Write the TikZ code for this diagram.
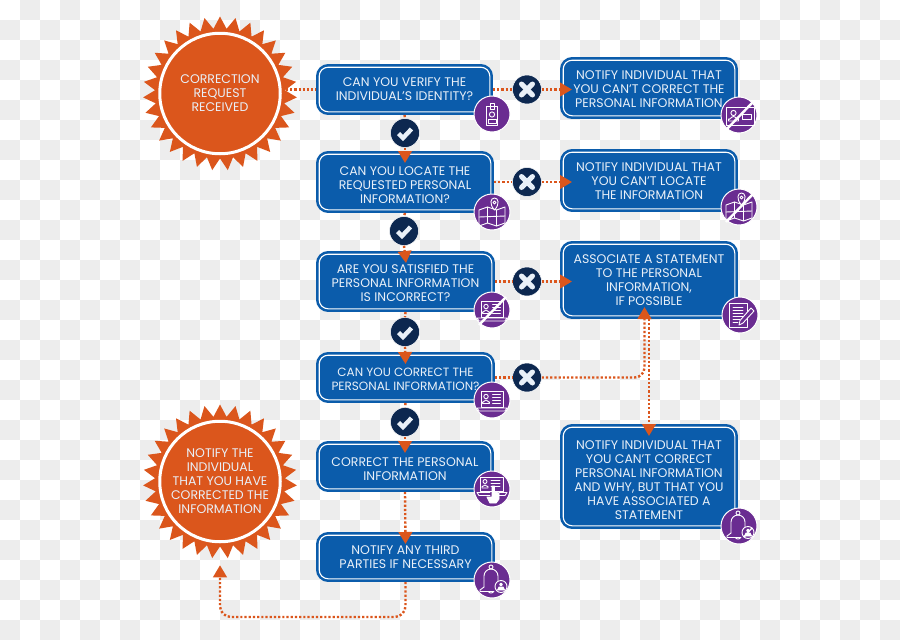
\documentclass[tikz,border=0pt]{standalone}
\usepackage{fontspec}
\setmainfont{Poppins}
\usetikzlibrary{shapes.geometric,arrows.meta}
\definecolor{boxblue}{HTML}{0B5CAB}
\definecolor{burst}{HTML}{DB561C}
\definecolor{navy}{HTML}{0D2850}
\definecolor{plum}{HTML}{6A2C91}
\definecolor{tile}{HTML}{EDEDED}
\definecolor{ink}{HTML}{E9F0F8}
\tikzset{
  flowbox/.style={draw=boxblue,fill=boxblue,double=white,line width=2.6pt,double distance=1.1pt,
    rounded corners=9pt,inner sep=0pt,outer sep=3.2pt,align=center,text=ink,
    font=\fontsize{12.5}{14}\selectfont},
  burststar/.style={star,star points=31,star point ratio=1.185,minimum size=154pt,inner sep=0pt,fill=burst},
  burstdisc/.style={circle,draw=white,line width=3pt,fill=burst,minimum size=120.5pt,inner sep=0pt,
    align=center,text=ink,font=\fontsize{12.5}{14}\selectfont},
  decision/.style={circle,fill=navy,draw=white,line width=.5pt,minimum size=29pt,inner sep=0pt},
  markstroke/.style={draw=ink,line width=4.4pt,line cap=butt,line join=miter},
  flow/.style={draw=burst,line width=2.4pt,dash pattern=on 2.2pt off 2pt,
    -{Triangle[length=12pt,width=13.5pt,fill=burst]}},
  flowplain/.style={draw=burst,line width=2.4pt,dash pattern=on 2.2pt off 2pt},
  badge/.style={circle,fill=plum,draw=white,line width=1pt,minimum size=36pt,inner sep=0pt},
  icon/.style={draw=white,line width=.9pt,line join=round,line cap=round},
  strike/.style={draw=white,line width=2.4pt},
}
% vertical nudge for a text block inside its box
\newcommand\dropby[1]{\rule{0pt}{\dimexpr 9.1pt+#1pt*2\relax}}
\newcommand\tickmark[1]{\draw[markstroke] ([shift={(-6.5,0.5)}]#1.center) -- ++(4.5,4.5) -- ++(8.5,-9);}
\newcommand\crossmark[1]{%
  \draw[markstroke,line width=5pt,line cap=round] ([shift={(-5.5,-5.5)}]#1.center) -- ++(11,11);
  \draw[markstroke,line width=5pt,line cap=round] ([shift={(5.5,-5.5)}]#1.center) -- ++(-11,11);}
\newcommand\badgeat[3]{\node[badge] (#1) at (#2) {};
  \begin{scope}[shift={(#2)}] #3 \end{scope}}
% icon parts, all drawn around the badge centre
\newcommand\icnid{%
  \draw[icon] (-5.5,-7.5) rectangle (5.5,11);
  \draw[icon] (-2,-11) rectangle (2,-5);
  \draw[icon] (0,0.5) circle (2.6);
  \draw[icon] (-4,5.5) rectangle (4,9);}
\newcommand\icnmap{%
  \draw[icon] (-13,-2) -- (-4.5,-5) -- (4.5,-2) -- (13,-5) -- (13,11) -- (4.5,14) -- (-4.5,11) -- (-13,14) -- cycle;
  \draw[icon] (-4.5,-5) -- (-4.5,11) (4.5,-2) -- (4.5,14) (-13,5) -- (13,4);
  \draw[icon,fill=plum] (2.5,-2) .. controls (-3,-8) and (-1.5,-14) .. (2.5,-14) .. controls (6.5,-14) and (8,-8) .. (2.5,-2) -- cycle;
  \draw[icon] (2.5,-9.5) circle (1.5);}
\newcommand\icnlaptop{%
  \draw[icon] (-11,-9) rectangle (11,7);
  \draw[icon] (-15,8) -- (15,8) -- (13,11) -- (-13,11) -- cycle;
  \draw[icon] (-6,-3.5) circle (2.2);
  \draw[icon] (-9.5,3.5) -- (-9.5,2) to[out=-90,in=180] (-6,0) to[out=0,in=-90] (-2.5,2) -- (-2.5,3.5) -- cycle;
  \draw[icon] (0.5,-5.5) -- (8.5,-5.5) (0.5,-2.5) -- (8.5,-2.5) (0.5,0.5) -- (8.5,0.5) (0.5,3.5) -- (8.5,3.5);}
\newcommand\icnhand{%
  \draw[icon] (-12,-12) rectangle (11,2);
  \draw[icon] (-15,3.5) -- (-2,3.5) (7,3.5) -- (15,3.5) -- (13,6.5) -- (7,6.5) (-2,6.5) -- (-13,6.5) -- (-15,3.5);
  \draw[icon] (-7,-7.5) circle (2);
  \draw[icon] (-10,-1) -- (-10,-2.5) to[out=-90,in=180] (-7,-4) to[out=0,in=-90] (-4,-2.5) -- (-4,-1) -- cycle;
  \draw[icon] (-1,-9) -- (8,-9) (-1,-6) -- (8,-6) (-1,-3) -- (8,-3);
  \draw[icon,fill=white] (0,-3) -- (2.5,-3) -- (2.5,3) -- (7,4) -- (7,10) -- (4,14) -- (-2,14) -- (-5,8) -- (0,8) -- cycle;}
\newcommand\icndoc{%
  \draw[icon] (-11,-12) rectangle (7,12);
  \draw[icon] (-7,-8) -- (3,-8) (-7,-5) -- (3,-5) (-7,-2) -- (3,-2) (-7,1) -- (3,1) (-7,4) -- (0,4) (-7,7) -- (-2,7);
  \draw[icon,fill=plum,line width=.9pt] (11,-7) -- (14,-4) -- (3,8) -- (-1,10) -- (0,5.5) -- cycle;}
\newcommand\icnbell{%
  \draw[icon] (-1,-13) circle (2);
  \draw[icon] (-8,7) -- (-8,-4) to[out=90,in=180] (-1,-11) to[out=0,in=90] (6,-4) -- (6,3);
  \draw[icon] (-8,7) -- (-12,10) -- (-12,11.5) -- (2,11.5);
  \draw[icon] (-3.5,11.5) to[out=-90,in=-90] (1.5,11.5);}
\newcommand\icnperson{%
  \draw[icon,fill=plum] (9,6.5) circle (6);
  \draw[icon,fill=white] (9,4.5) circle (1.4);
  \draw[icon,fill=white] (5.5,10) -- (7,7) -- (11,7) -- (12.5,10) -- cycle;}
\newcommand\icnpersonoff{\icnperson\draw[icon,line width=1.3pt] (13,2) -- (5,11);}
\newcommand\icncard{%
  \draw[icon] (-13,-8) rectangle (15,10);
  \draw[icon] (-5.5,-2) circle (2.6);
  \draw[icon] (-10.5,6) -- (-10.5,4) to[out=-90,in=180] (-5.5,1.5) to[out=0,in=-90] (-0.5,4) -- (-0.5,6) -- cycle;
  \draw[icon] (3,-1) rectangle (12,4);}
\newcommand\icnslash{\draw[strike] (14,-13) -- (-13,15);}
\begin{document}
\begin{tikzpicture}[x=1pt,y=-1pt]
\useasboundingbox (0,0) rectangle (900,640);
% tiled backdrop
\fill[white] (0,0) rectangle (900,640);
\foreach \i in {0,...,44}{\foreach \j in {0,...,31}{
  \pgfmathtruncatemacro\tileodd{mod(\i+\j,2)}
  \ifnum\tileodd=1 \fill[tile] (20*\i,20*\j) rectangle ++(20,20);\fi
}}
% bursts
\node[burststar] (star1) at (220,93.5) {};
\node[burstdisc] (disc1) at (220,93.5) {CORRECTION\\REQUEST\\RECEIVED};
\node[burststar] (star2) at (220,481.5) {};
\node[burstdisc] (disc2) at (220,481.5) {NOTIFY THE\\INDIVIDUAL\\THAT YOU HAVE\\CORRECTED THE\\INFORMATION};
% question column
\node[flowbox,minimum width=170.6pt,minimum height=44.6pt] (b1) at (404.5,89.5) {CAN YOU VERIFY THE\\INDIVIDUAL'S IDENTITY?};
\node[flowbox,minimum width=171.6pt,minimum height=55.6pt] (b2) at (405,182) {\dropby{2.5}CAN YOU LOCATE THE\\REQUESTED PERSONAL\\INFORMATION?};
\node[flowbox,minimum width=172.6pt,minimum height=54.6pt] (b3) at (405.5,281.5) {\dropby{1.5}ARE YOU SATISFIED THE\\PERSONAL INFORMATION\\IS INCORRECT?};
\node[flowbox,minimum width=172.6pt,minimum height=44.6pt,font=\fontsize{12}{14}\selectfont] (b4) at (405.5,377.5) {\dropby{1.5}CAN YOU CORRECT THE\\PERSONAL INFORMATION?};
\node[flowbox,minimum width=171.6pt,minimum height=44.6pt] (b5) at (405,466.5) {\dropby{2.5}CORRECT THE PERSONAL\\INFORMATION};
\node[flowbox,minimum width=172.6pt,minimum height=43.6pt] (b6) at (405.5,557) {NOTIFY ANY THIRD\\PARTIES IF NECESSARY};
% outcome column
\node[flowbox,minimum width=171.6pt,minimum height=55.6pt] (r1) at (649,88) {\dropby{1}NOTIFY INDIVIDUAL THAT\\YOU CAN'T CORRECT THE\\PERSONAL INFORMATION};
\node[flowbox,minimum width=171.6pt,minimum height=56.6pt] (r2) at (649,180.5) {\dropby{.5}NOTIFY INDIVIDUAL THAT\\YOU CAN'T LOCATE\\THE INFORMATION};
\node[flowbox,minimum width=171.6pt,minimum height=71.6pt] (r3) at (649,280) {ASSOCIATE A STATEMENT\\TO THE PERSONAL\\INFORMATION,\\IF POSSIBLE};
\node[flowbox,minimum width=171.6pt,minimum height=98.6pt] (r4) at (649,476.5) {\dropby{3.5}NOTIFY INDIVIDUAL THAT\\YOU CAN'T CORRECT\\PERSONAL INFORMATION\\AND WHY, BUT THAT YOU\\HAVE ASSOCIATED A\\STATEMENT};
% decision discs
\node[decision] (yes1) at (405,133) {};
\node[decision] (yes2) at (404,231) {};
\node[decision] (yes3) at (405,332) {};
\node[decision] (yes4) at (405,422) {};
\node[decision] (no1) at (527,89.5) {};
\node[decision] (no2) at (527,182) {};
\node[decision] (no3) at (527,281.5) {};
\node[decision] (no4) at (527,377.5) {};
\foreach \n in {yes1,yes2,yes3,yes4}{\tickmark{\n}}
\foreach \n in {no1,no2,no3,no4}{\crossmark{\n}}
% connectors
\coordinate (rail) at (0,617);
\coordinate (elbow) at (644.5,377.5);
\draw[flowplain] (disc1.east |- b1.west) -- (b1.west);
\draw[flowplain] (b1.south) -- (yes1.north);
\draw[flow] (yes1.south) -- ([yshift=-12pt]b2.north);
\draw[flowplain] (b2.south) -- (yes2.north);
\draw[flow] (yes2.south) -- ([xshift=.5pt,yshift=-12pt]b3.north);
\draw[flowplain] (b3.south) -- (yes3.north);
\draw[flow] (yes3.south) -- ([yshift=-12pt]b4.north);
\draw[flowplain] (b4.south) -- (yes4.north);
\draw[flow] (yes4.south) -- ([yshift=-12pt]b5.north);
\draw[flow] (b5.south) -- ([yshift=-12pt]b6.north);
\draw[flowplain] (b1.east) -- (no1.west);
\draw[flow] (no1.east) -- ([xshift=12pt,yshift=-1.5pt]r1.west);
\draw[flowplain] (b2.east) -- (no2.west);
\draw[flow] (no2.east) -- ([xshift=12pt,yshift=-1.5pt]r2.west);
\draw[flowplain] (b3.east) -- (no3.west);
\draw[flow] (no3.east) -- ([xshift=12pt,yshift=-1.5pt]r3.west);
\draw[flowplain] (b4.east) -- (no4.west);
\draw[flow,rounded corners=10pt] (no4.east) -- (elbow) -- (elbow |- r3.south) -- ([yshift=12pt]elbow |- r3.south);
\draw[flow] (r3.south) -- ([yshift=-12pt]r4.north);
\draw[flow,rounded corners=11pt] (b6.south) -- (b6.south |- rail) -- (disc2.south |- rail) -- ([yshift=-22pt]disc2.south);
% badges with their pictograms
\badgeat{ib1}{492,114}{\icnid}
\badgeat{ib2}{492,212}{\icnmap}
\badgeat{ib3}{492,310}{\icnlaptop\icnslash}
\badgeat{ib4}{492,400}{\icnlaptop}
\badgeat{ib5}{492,489}{\icnhand}
\badgeat{ib6}{492,580}{\icnbell\icnperson}
\badgeat{ir1}{739,115}{\icncard\icnslash}
\badgeat{ir2}{739,207}{\icnmap\icnslash}
\badgeat{ir3}{740,315}{\icndoc}
\badgeat{ir4}{739,526}{\icnbell\icnpersonoff}
\end{tikzpicture}
\end{document}
